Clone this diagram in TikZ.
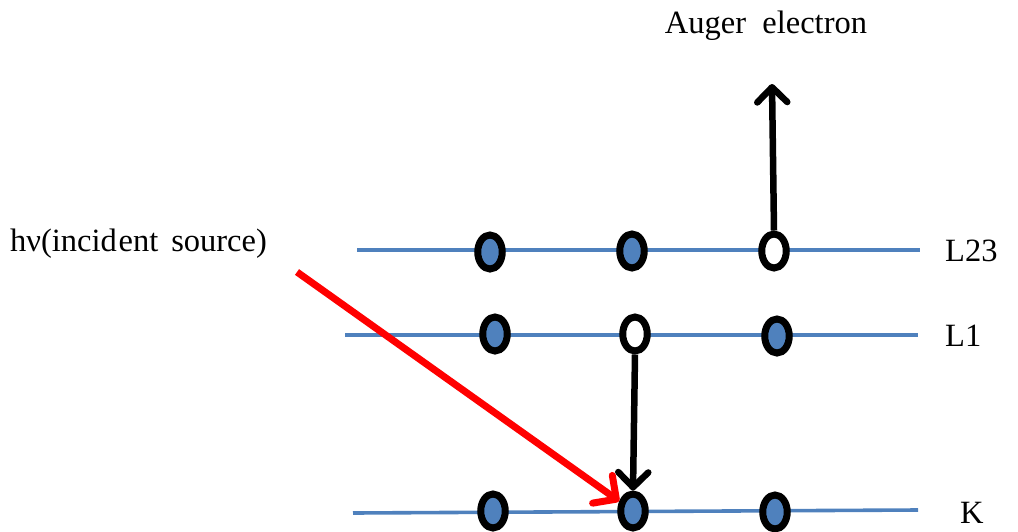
\documentclass[tikz,border=0pt]{standalone}
\usepackage{fontspec}
\setmainfont{Liberation Serif}
\usetikzlibrary{shapes.geometric,arrows.meta}
\definecolor{lvlblue}{HTML}{4F81BD}
\definecolor{arrred}{HTML}{FF0000}
\tikzset{
  level/.style={draw=lvlblue, line width=3.6pt},
  filled/.style={ellipse, draw=black, line width=7pt, fill=lvlblue, minimum width=24.5pt, minimum height=34pt, inner sep=0pt},
  hole/.style={ellipse, draw=black, line width=7pt, fill=white, minimum width=24.5pt, minimum height=34pt, inner sep=0pt},
  lbl/.style={font=\fontsize{32.5}{38}\selectfont, inner sep=0pt},
  blackarrow/.style={draw=black, line width=6.5pt, -{Straight Barb[length=15pt,width=30pt,round]}},
  redarrow/.style={draw=arrred, line width=7pt, -{Straight Barb[length=17pt,width=34pt,round]}}
}
\begin{document}
\begin{tikzpicture}[x=1pt,y=-1pt]
\useasboundingbox (0,0) rectangle (1018,531);
% level lines
\coordinate (a1) at (357,250); \coordinate (a2) at (920,250);
\coordinate (b1) at (345,335); \coordinate (b2) at (918,335);
\coordinate (c1) at (353,513); \coordinate (c2) at (918,510);
\draw[level] (a1) -- (a2);
\draw[level] (b1) -- (b2);
\draw[level] (c1) -- (c2);
% electrons
\node[filled] (e231) at (490,252) {};
\node[filled] (e232) at (632,251) {};
\node[hole]   (e233) at (774,251) {};
\node[filled] (e11) at (495,334) {};
\node[hole]   (e12) at (635,334) {};
\node[filled] (e13) at (777,336) {};
\node[filled] (k1) at (493,511) {};
\node[filled] (k2) at (633,511) {};
\node[filled] (k3) at (775,512) {};
% arrows
\coordinate (augtip) at (772,84);
\draw[blackarrow] (e233.north) -- (augtip);
\draw[blackarrow] (e12.south) -- (k2.north);
\coordinate (src) at (297,272);
\draw[redarrow] (src) -- (k2);
% labels
\node[lbl] (aug) at (766,26) {Auger\hspace{0.5em}electron};
\node[lbl, anchor=west] (hv) at (10,244) {hν(incid\hspace{0.05em}ent\hspace{0.4em}source)};
\node[lbl, anchor=west] (l23) at (945,251) {L23};
\node[lbl, anchor=west] (l1) at (945,336) {L1};
\node[lbl, anchor=west] (lk) at (960,513) {K};
\end{tikzpicture}
\end{document}
